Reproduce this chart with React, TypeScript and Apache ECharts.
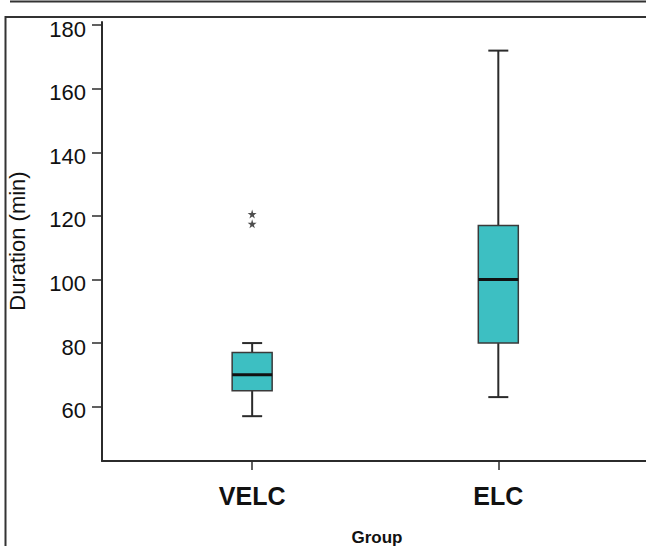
import React, { useEffect, useRef } from "react";
import * as echarts from "echarts";

const categories = ["VELC", "ELC"];
const categoryPositions = [1, 2];
const mins = [57, 63];
const q1s = [65, 80];
const medians = [70, 100];
const q3s = [77, 117];
const maxs = [80, 172];
const outlierPositions = [1, 1];
const outlierValues = [120.6, 117.5];
const yTicks = [60, 80, 100, 120, 140, 160, 180];

const FONT = "'Liberation Sans', Arial, sans-serif";

export default function App() {
  const ref = useRef<HTMLDivElement>(null);
  useEffect(() => {
    if (!ref.current) return;
    const chart = echarts.init(ref.current, null, { renderer: "svg" });
    const boxData = categories.map((_, i) => [
      categoryPositions[i],
      mins[i],
      q1s[i],
      medians[i],
      q3s[i],
      maxs[i],
    ]);
    const outlierData = outlierValues.map((v, i) => [outlierPositions[i], v]);
    const option: any = {
      animation: false,
      backgroundColor: "#ffffff",
      grid: { left: 102, top: 22, width: 545, bottom: 85 },
      xAxis: {
        type: "value",
        min: 0.39,
        max: 2.6,
        splitLine: { show: false },
        axisLine: { show: true, lineStyle: { color: "#2b2b2b", width: 2 } },
        axisTick: {
          show: true,
          customValues: categoryPositions,
          length: 9,
          lineStyle: { color: "#2b2b2b", width: 1.5 },
        },
        axisLabel: {
          customValues: categoryPositions,
          formatter: (v: number) => categories[categoryPositions.indexOf(v)] ?? "",
          fontFamily: FONT,
          fontWeight: "bold",
          fontSize: 25,
          color: "#111",
          margin: 22,
        },
      },
      yAxis: {
        type: "value",
        min: 42.9,
        max: 181,
        splitLine: { show: false },
        axisLine: { show: true, lineStyle: { color: "#2b2b2b", width: 2 } },
        axisTick: {
          show: true,
          customValues: yTicks,
          length: 10,
          lineStyle: { color: "#2b2b2b", width: 1.5 },
        },
        axisLabel: {
          customValues: yTicks,
          margin: 16,
          formatter: (v: number) => `{a|${v}}`,
          rich: {
            a: {
              fontFamily: FONT,
              fontSize: 22,
              color: "#111",
              padding: [8, 0, 0, 0],
            },
          },
        },
      },
      series: [
        {
          type: "custom",
          data: boxData,
          encode: { x: 0, y: [1, 2, 3, 4, 5] },
          renderItem: (params: any, api: any) => {
            const x = api.value(0);
            const pMin = api.coord([x, api.value(1)]);
            const pQ1 = api.coord([x, api.value(2)]);
            const pMed = api.coord([x, api.value(3)]);
            const pQ3 = api.coord([x, api.value(4)]);
            const pMax = api.coord([x, api.value(5)]);
            const cx = pMin[0];
            const hw = 20;
            const cw = 10;
            const lineStyle = { stroke: "#2b2b2b", lineWidth: 2 };
            return {
              type: "group",
              children: [
                { type: "line", shape: { x1: cx, y1: pMax[1], x2: cx, y2: pQ3[1] }, style: lineStyle },
                { type: "line", shape: { x1: cx, y1: pQ1[1], x2: cx, y2: pMin[1] }, style: lineStyle },
                { type: "line", shape: { x1: cx - cw, y1: pMax[1], x2: cx + cw, y2: pMax[1] }, style: lineStyle },
                { type: "line", shape: { x1: cx - cw, y1: pMin[1], x2: cx + cw, y2: pMin[1] }, style: lineStyle },
                {
                  type: "rect",
                  shape: { x: cx - hw, y: pQ3[1], width: hw * 2, height: pQ1[1] - pQ3[1] },
                  style: { fill: "#3dbfc2", stroke: "#3a3a3a", lineWidth: 1.5 },
                },
                {
                  type: "line",
                  shape: { x1: cx - hw, y1: pMed[1], x2: cx + hw, y2: pMed[1] },
                  style: { stroke: "#111", lineWidth: 3 },
                },
              ],
            };
          },
          z: 3,
        },
        {
          type: "scatter",
          data: outlierData,
          symbol:
            "path://M50,0 L61,35 L98,35 L68,57 L79,91 L50,70 L21,91 L32,57 L2,35 L39,35 Z",
          symbolSize: 9,
          itemStyle: { color: "#222" },
          z: 4,
        },
      ],
      graphic: [
        {
          type: "line",
          shape: { x1: 10, y1: 1.5, x2: 646, y2: 1.5 },
          style: { stroke: "#333", lineWidth: 2 },
        },
        {
          type: "polyline",
          shape: { points: [[5.5, 546], [5.5, 17], [646, 17]] },
          style: { stroke: "#333", lineWidth: 2, fill: null },
        },
        {
          type: "text",
          x: 17,
          y: 241,
          rotation: Math.PI / 2,
          style: {
            text: "Duration (min)",
            font: `22px ${FONT}`,
            fill: "#111",
            align: "center",
            verticalAlign: "middle",
          },
        },
        {
          type: "text",
          x: 377,
          y: 537,
          style: {
            text: "Group",
            font: `bold 17px ${FONT}`,
            fill: "#111",
            align: "center",
            verticalAlign: "middle",
          },
        },
      ],
    };
    chart.setOption(option);
    return () => chart.dispose();
  }, []);
  return (
    <div
      ref={ref}
      style={{ position: "fixed", left: 0, top: 0, width: 646, height: 546 }}
    />
  );
}
